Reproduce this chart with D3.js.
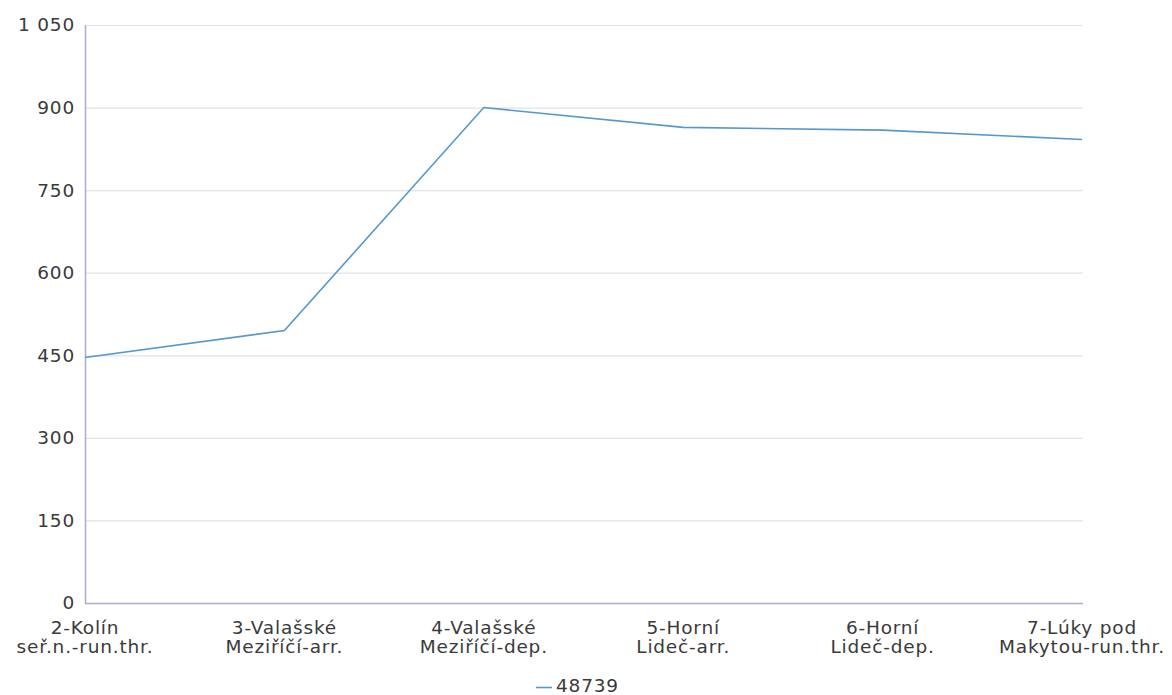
<!DOCTYPE html>
<html><head><meta charset="utf-8">
<script src="https://cdn.jsdelivr.net/npm/d3@7"></script>
<style>body{margin:0;background:#fff;}svg{display:block;font-family:"DejaVu Sans",sans-serif;}</style>
</head><body>
<svg id="c" width="1172" height="695"></svg>
<script>
const categories = [["2-Kolín","seř.n.-run.thr."],["3-Valašské","Meziříčí-arr."],["4-Valašské","Meziříčí-dep."],["5-Horní","Lideč-arr."],["6-Horní","Lideč-dep."],["7-Lúky pod","Makytou-run.thr."]];
const values = [446, 495, 900, 864, 859, 842];
const seriesName = "48739";
const yTicks = [0,150,300,450,600,750,900,1050];

(function(){
const svg = d3.select("#c");
const pL = 85, pR = 1082, pT = 25, pB = 603;
const FS = 18.5, LS = 0.8;
const x = d3.scalePoint().domain(d3.range(categories.length)).range([pL, pR]);
const y = d3.scaleLinear().domain([0,1050]).range([pB, pT]);
const fmt = v => d3.format(",")(v).replace(/,/g, " ");

// grid
svg.append("g").selectAll("line").data(yTicks.filter(t=>t>0)).join("line")
  .attr("x1", pL).attr("x2", pR+1).attr("y1", d=>y(d)+0.5).attr("y2", d=>y(d)+0.5)
  .attr("stroke", "#e2e2ec").attr("stroke-width", 1.2);

// y labels
const yAxis = d3.axisLeft(y).tickValues(yTicks).tickFormat(fmt).tickSize(0).tickPadding(10);
const ga = svg.append("g").attr("transform", `translate(${pL},0)`).call(yAxis);
ga.select(".domain").remove();
ga.selectAll("text").attr("font-size", FS).attr("letter-spacing", LS).attr("fill", "#3a3a3a").attr("font-family","DejaVu Sans");

// axis lines
svg.append("line").attr("x1", pL+0.5).attr("x2", pL+0.5).attr("y1", pT).attr("y2", pB+1)
  .attr("stroke", "#acacd0").attr("stroke-width", 1.5);
svg.append("line").attr("x1", pL).attr("x2", pR+1).attr("y1", pB+0.5).attr("y2", pB+0.5)
  .attr("stroke", "#acacd0").attr("stroke-width", 1.5);

// x labels
const xl = svg.append("g").selectAll("text").data(categories).join("text")
  .attr("x", (d,i)=>x(i)).attr("y", 634).attr("text-anchor","middle")
  .attr("font-size", FS).attr("letter-spacing", LS).attr("fill", "#3a3a3a");
xl.selectAll("tspan").data(d=>d).join("tspan")
  .attr("x", function(){return this.parentNode.getAttribute("x");})
  .attr("dy", (d,i)=> i===0 ? 0 : 19).text(d=>d);

// line
svg.append("path").datum(values)
  .attr("d", d3.line().x((d,i)=>x(i)).y(d=>y(d)))
  .attr("fill","none").attr("stroke","#5599cc").attr("stroke-width",1.6);

// legend
svg.append("line").attr("x1",536).attr("x2",552).attr("y1",687.5).attr("y2",687.5)
  .attr("stroke","#5599cc").attr("stroke-width",1.6);
svg.append("text").attr("x",556).attr("y",692).attr("font-size",FS).attr("letter-spacing", LS).attr("fill","#3a3a3a").text(seriesName);
})();
</script>
</body></html>
